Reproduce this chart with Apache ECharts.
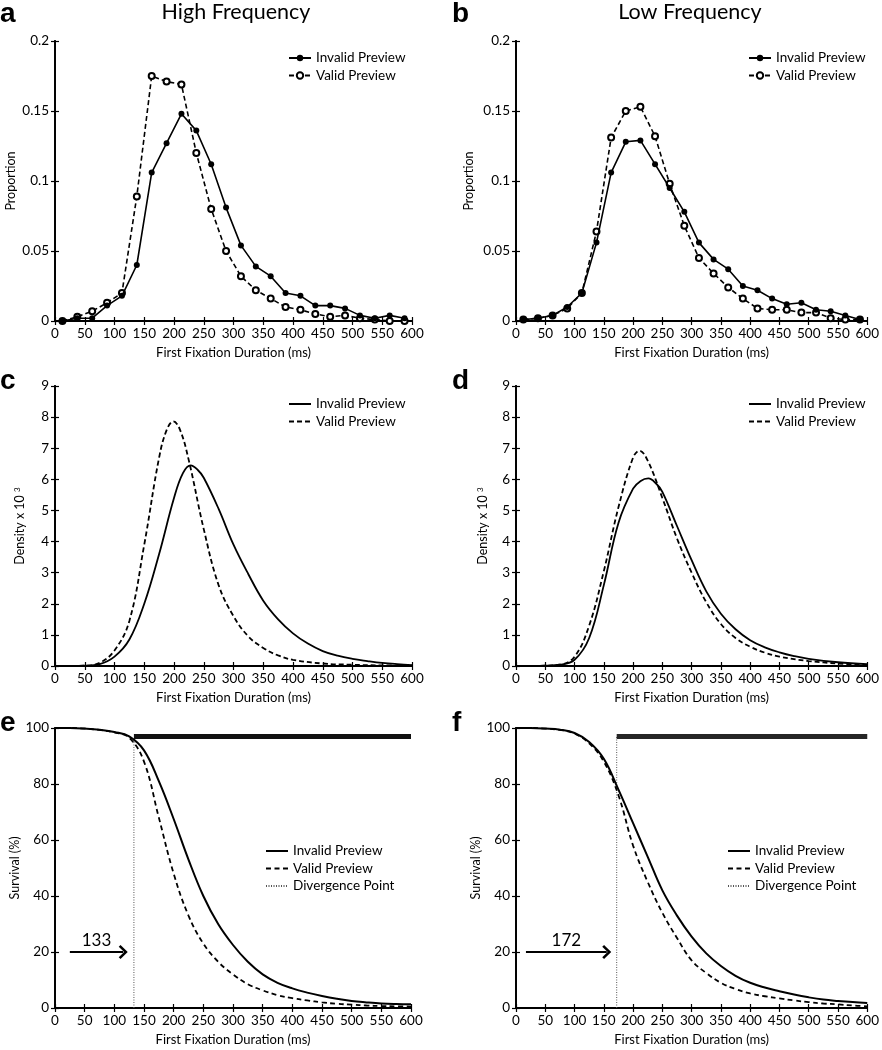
<!DOCTYPE html>
<html><head><meta charset="utf-8">
<script src="https://cdn.jsdelivr.net/npm/echarts@6/dist/echarts.min.js"></script>
<style>html,body{margin:0;padding:0;background:#fff}#c{width:882px;height:1050px}</style>
</head><body><div id="c"></div><script>
// ---------- DATA ----------
// Histogram bin centres (ms), panels a & b
const binCentres = [12.5,37.5,62.5,87.5,112.5,137.5,162.5,187.5,212.5,237.5,262.5,287.5,312.5,337.5,362.5,387.5,412.5,437.5,462.5,487.5,512.5,537.5,562.5,587.5];
const propHighInvalid = [0.000,0.002,0.002,0.011,0.018,0.040,0.106,0.127,0.148,0.136,0.112,0.081,0.054,0.039,0.032,0.020,0.018,0.011,0.011,0.009,0.004,0.002,0.004,0.002];
const propHighValid   = [0.000,0.003,0.007,0.013,0.020,0.089,0.175,0.171,0.169,0.120,0.080,0.050,0.032,0.022,0.016,0.010,0.008,0.005,0.003,0.004,0.002,0.001,0.000,0.000];
const propLowInvalid  = [0.001,0.002,0.004,0.010,0.020,0.056,0.106,0.128,0.129,0.112,0.095,0.078,0.056,0.044,0.037,0.025,0.022,0.016,0.012,0.013,0.008,0.007,0.004,0.001];
const propLowValid    = [0.001,0.002,0.004,0.009,0.020,0.064,0.131,0.150,0.153,0.132,0.098,0.068,0.045,0.034,0.024,0.016,0.009,0.008,0.008,0.006,0.006,0.002,0.001,0.001];

// Density x 10^3, panels c & d
const densHighInvalidX = [0,50,75,100,125,150,175,200,215,228,240,250,275,300,325,350,375,400,425,450,475,500,525,550,575,600];
const densHighInvalidY = [0,0.01,0.06,0.3,0.85,2.0,3.6,5.4,6.2,6.45,6.3,6.05,5.05,3.9,2.95,2.1,1.5,1.05,0.72,0.48,0.33,0.23,0.16,0.1,0.06,0.03];
const densHighValidX = [0,50,75,100,125,150,175,188,199,210,225,250,275,300,325,350,375,400,450,500,550,600];
const densHighValidY = [0,0.01,0.1,0.5,1.45,3.9,6.7,7.6,7.86,7.6,6.6,4.4,2.6,1.6,0.95,0.58,0.34,0.2,0.08,0.04,0.02,0.01];
const densLowInvalidX = [0,50,75,100,125,150,175,200,213,226,240,250,275,300,325,350,375,400,425,450,475,500,550,600];
const densLowInvalidY = [0,0.01,0.04,0.2,0.9,2.6,4.6,5.7,5.95,6.03,5.85,5.6,4.5,3.4,2.4,1.68,1.18,0.83,0.6,0.44,0.32,0.23,0.12,0.06];
const densLowValidX = [0,50,75,100,125,150,175,200,211,225,250,275,300,325,350,375,400,425,450,500,550,600];
const densLowValidY = [0,0.01,0.04,0.3,1.3,3.05,5.1,6.7,6.92,6.6,5.4,4.1,3.0,2.05,1.35,0.9,0.62,0.43,0.3,0.16,0.08,0.03];

// Survival (%), panels e & f
const survX = [0,25,50,75,100,125,150,175,200,225,250,275,300,325,350,375,400,425,450,475,500,525,550,575,600];
const survHighInvalid = [100,100,99.8,99.4,98.6,97,92,81,67.5,53,40,30,22.5,16.5,12,9,7,5.5,4.3,3.3,2.5,2,1.6,1.4,1.3];
const survHighValid   = [100,100,99.8,99.3,98.4,96.5,88,68,48,33,23,16.5,12,8.5,6.3,4.6,3.5,2.7,2.0,1.5,1.2,0.9,0.7,0.6,0.5];
const survLowInvalid  = [100,100,99.8,99.4,98.2,95,89,78,66,54,42,33,25.5,19.5,15,11.5,9,7.3,6,4.8,3.8,3,2.5,2.1,1.8];
const survLowValid    = [100,100,99.8,99.3,98,94.5,88,76,58,45,34,25,17,12.5,9,6.8,5.2,4.2,3.4,2.7,2.1,1.6,1.3,0.9,0.6];

// Divergence point annotations (e, f)
const divergencePoint = [133, 172];
const divergenceTop   = [96, 97];
const significanceLevel = [97, 97];
const arrowStart = [25, 17];
const arrowEnd   = [115, 155];
const arrowLevel = [20, 20];

const panelTitles = ['High Frequency', 'Low Frequency'];
const panelLetters = ['a','b','c','d','e','f'];
const xAxisTitle = 'First Fixation Duration (ms)';
const yAxisTitles = ['Proportion','Proportion','Density x 10 {sup|3}','Density x 10 {sup|3}','Survival (%)','Survival (%)'];
const seriesNames = ['Invalid Preview','Valid Preview','Divergence Point'];

// ---------- LAYOUT ----------
const FONT = 'Lato';
const grids = [
  {left:55, top:41, width:357, height:280},
  {left:516, top:41, width:356, height:280},
  {left:55, top:386, width:357, height:280},
  {left:516, top:386, width:356, height:280},
  {left:55, top:728, width:356, height:280},
  {left:516, top:728, width:356, height:280}
];
const yRanges = [[0,0.2,0.05],[0,0.2,0.05],[0,9,1],[0,9,1],[0,100,20],[0,100,20]];
const yNameGap = [38,41,28,26,33,32];

const xAxes = [], yAxes = [];
grids.forEach((g, i) => {
  const axLine = {show:true, lineStyle:{color:'#000', width:1.8}};
  const tick = {show:true, inside:true, length:4, lineStyle:{color:'#000', width:1.2}};
  xAxes.push({type:'value', gridIndex:i, min:0, max:600, interval:50, position:'bottom',
    axisLine:axLine, axisTick:tick, splitLine:{show:false},
    axisLabel:{color:'#000', fontSize:13.5, fontFamily:FONT, margin:6},
    name:xAxisTitle, nameLocation:'middle', nameGap:25,
    nameTextStyle:{color:'#000', fontSize:13, fontFamily:FONT}});
  xAxes.push({type:'value', gridIndex:i, min:0, max:600, interval:50, position:'top',
    axisLine:axLine, axisTick:tick, splitLine:{show:false}, axisLabel:{show:false}});
  const r = yRanges[i];
  yAxes.push({type:'value', gridIndex:i, min:r[0], max:r[1], interval:r[2], position:'left',
    axisLine:axLine, axisTick:tick, splitLine:{show:false},
    axisLabel:{color:'#000', fontSize:13.5, fontFamily:FONT, margin:6},
    name:yAxisTitles[i], nameLocation:'middle', nameGap:yNameGap[i],
    nameTextStyle:{color:'#000', fontSize:12.5, fontFamily:FONT,
      rich:{sup:{fontSize:8, fontFamily:FONT, color:'#000', verticalAlign:'top', lineHeight:14}}}});
  yAxes.push({type:'value', gridIndex:i, min:r[0], max:r[1], interval:r[2], position:'right',
    axisLine:axLine, axisTick:tick, splitLine:{show:false}, axisLabel:{show:false}});
});

const zip = (xs, ys) => xs.map((x, k) => [x, ys[k]]);
const series = [];
const solid = {color:'#000', width:1.6, type:'solid'};
const dashed = {color:'#000', width:1.6, type:[5,3]};

// a, b
[[propHighInvalid, propHighValid], [propLowInvalid, propLowValid]].forEach((pair, i) => {
  const tag = '|' + panelLetters[i];
  series.push({type:'line', name:seriesNames[0]+tag, xAxisIndex:2*i, yAxisIndex:2*i,
    data:zip(binCentres, pair[0]), symbol:'circle', symbolSize:6,
    itemStyle:{color:'#000'}, lineStyle:solid, z:3, animation:false});
  series.push({type:'line', name:seriesNames[1]+tag, xAxisIndex:2*i, yAxisIndex:2*i,
    data:zip(binCentres, pair[1]), symbol:'emptyCircle', symbolSize:6,
    itemStyle:{color:'#000', borderWidth:1.2}, lineStyle:dashed, z:2, animation:false});
});
// c, d
[[zip(densHighInvalidX, densHighInvalidY), zip(densHighValidX, densHighValidY)],
 [zip(densLowInvalidX, densLowInvalidY), zip(densLowValidX, densLowValidY)]].forEach((pair, j) => {
  const i = j + 2, tag = '|' + panelLetters[i];
  series.push({type:'line', name:seriesNames[0]+tag, xAxisIndex:2*i, yAxisIndex:2*i,
    data:pair[0], symbol:'none', smooth:0.4, itemStyle:{color:'#000'},
    lineStyle:{color:'#000', width:1.8}, animation:false});
  series.push({type:'line', name:seriesNames[1]+tag, xAxisIndex:2*i, yAxisIndex:2*i,
    data:pair[1], symbol:'none', smooth:0.4, itemStyle:{color:'#000'},
    lineStyle:{color:'#000', width:1.8, type:[5,3]}, animation:false});
});
// e, f
const arrowHead = 'path://M0,10 L10,0 L20,10 L17.5,12.5 L10,5 L2.5,12.5 Z';
[[survHighInvalid, survHighValid], [survLowInvalid, survLowValid]].forEach((pair, j) => {
  const i = j + 4, tag = '|' + panelLetters[i];
  const d = divergencePoint[j];
  series.push({type:'line', name:seriesNames[0]+tag, xAxisIndex:2*i, yAxisIndex:2*i,
    data:zip(survX, pair[0]), symbol:'none', smooth:0.4, itemStyle:{color:'#000'},
    lineStyle:{color:'#000', width:2}, z:3, animation:false});
  series.push({type:'line', name:seriesNames[1]+tag, xAxisIndex:2*i, yAxisIndex:2*i,
    data:zip(survX, pair[1]), symbol:'none', smooth:0.4, itemStyle:{color:'#000'},
    lineStyle:{color:'#000', width:1.8, type:[5,3.5]}, z:3, animation:false});
  series.push({type:'line', name:seriesNames[2]+tag, xAxisIndex:2*i, yAxisIndex:2*i,
    data:[[d, 0],[d, divergenceTop[j]]], symbol:'none', itemStyle:{color:'#555'},
    lineStyle:{color:'#555', width:1, type:[1,1.5]}, z:2, animation:false,
    markLine:{silent:true, animation:false, symbol:['none', arrowHead], symbolSize:[14,9],
      lineStyle:{color:'#000', width:2, type:'solid'},
      label:{show:true, position:'insideMiddleTop', formatter:String(d), color:'#000',
        fontSize:17, fontFamily:FONT, distance:3},
      data:[[{coord:[arrowStart[j], arrowLevel[j]]},{coord:[arrowEnd[j], arrowLevel[j]]}]]}});
  // significance bar from divergence point onward
  series.push({type:'line', name:'sig'+tag, xAxisIndex:2*i, yAxisIndex:2*i,
    data:[[d, significanceLevel[j]],[600, significanceLevel[j]]], symbol:'none',
    lineStyle:{color:j===0?'#111':'#262626', width:5}, z:4, animation:false});
});

const legendPos = [[283,46],[743,46],[283,392],[743,392],[260,839],[722,839]];
const legends = legendPos.map((p, i) => {
  const lg = {
    left:p[0], top:p[1], orient:'vertical', itemWidth:22, itemHeight:8, itemGap:3.5,
    selectedMode:false,
    data: (i < 4 ? seriesNames.slice(0,2) : seriesNames).map(n => n + '|' + panelLetters[i]),
    formatter: n => n.split('|')[0],
    textStyle:{color:'#000', fontSize:13.5, fontFamily:FONT, lineHeight:14}
  };
  if (i >= 2) lg.itemStyle = {opacity:0};
  return lg;
});

const graphic = [
  {type:'text', x:236, y:1, style:{text:panelTitles[0], fontSize:21.5, fontFamily:FONT, fill:'#000', align:'center', verticalAlign:'top'}},
  {type:'text', x:690, y:1, style:{text:panelTitles[1], fontSize:21.5, fontFamily:FONT, fill:'#000', align:'center', verticalAlign:'top'}}
];
const letterPos = [[0,0],[452,0],[0,367],[452,367],[0,709],[452,709]];
letterPos.forEach((p, i) => graphic.push({type:'text', x:p[0], y:p[1],
  style:{text:panelLetters[i], fontSize:28, fontWeight:'bold', fontFamily:'Liberation Sans', fill:'#000', align:'left', verticalAlign:'top'}}));

const chart = echarts.init(document.getElementById('c'), null, {renderer:'canvas'});
chart.setOption({
  animation:false,
  backgroundColor:'#fff',
  grid:grids, xAxis:xAxes, yAxis:yAxes, series:series, legend:legends, graphic:graphic
});
</script></body></html>
